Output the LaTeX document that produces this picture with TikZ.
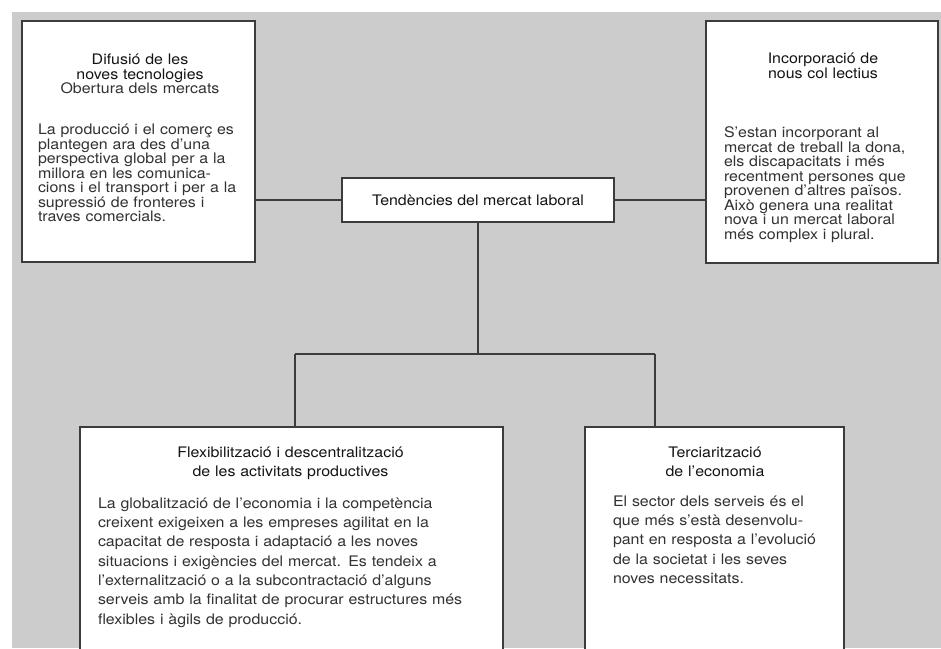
\documentclass[tikz,border=0pt]{standalone}
\usepackage{fontspec}
\setmainfont{TeX Gyre Heros}[FakeStretch=1.1]
\definecolor{bg}{RGB}{204,204,204}
\definecolor{ln}{RGB}{60,60,60}
\definecolor{tt}{RGB}{20,20,20}
\definecolor{bd}{RGB}{50,50,50}
\newcommand{\jline}[1]{\makebox[\linewidth][s]{#1}}
\newcommand{\fst}{\rule{0pt}{13pt}}
\begin{document}
\begin{tikzpicture}[x=1pt,y=-1pt,
  box/.style={draw=ln, line width=1.2pt, fill=white, inner sep=0pt},
  ttl/.style={inner sep=0pt, anchor=north, align=center, text=tt, font=\fontsize{14.5}{19.3}\selectfont},
  ttlt/.style={ttl, font={\fontsize{14.5}{14.5}\selectfont\lineskiplimit=-20pt}},
  body/.style={inner sep=0pt, anchor=north, align=left, text=bd, font={\fontsize{14.5}{14.5}\selectfont\lineskiplimit=-20pt}},
  bodyb/.style={body, font=\fontsize{14.5}{19.3}\selectfont},
  conn/.style={draw=ln, line width=1.2pt}]
\useasboundingbox (0,0) rectangle (941,648);
\clip (0,0) rectangle (941,648);
\fill[white] (0,0) rectangle (941,648);
\fill[bg] (12,12) rectangle (941,648);

% boxes
\node[box, minimum width=233pt, minimum height=241pt] (tl) at (138.5,141.5) {};
\node[box, minimum width=232pt, minimum height=242pt] (tr) at (822,142) {};
\node[box, minimum width=272pt, minimum height=44pt, text=tt, font=\fontsize{14.5}{19}\selectfont] (c) at (478,200) {Tendències del mercat laboral};
\node[box, minimum width=423pt, minimum height=253pt] (bl) at (291.5,553.5) {};
\node[box, minimum width=259pt, minimum height=253pt] (br) at (714.5,553.5) {};

% connectors
\coordinate (jl) at (295,354);
\coordinate (jr) at (655,354);
\draw[conn] (tl.east |- c.west) -- (c.west);
\draw[conn] (c.east) -- (c.east -| tr.west);
\draw[conn] (c.south) -- (c.south |- jl);
\draw[conn] (jl) -- (jr);
\draw[conn] (jl) -- (jl |- bl.north);
\draw[conn] (jr) -- (jr |- br.north);

% top left
\node[ttlt, text width=204pt] (tlt) at (140,51.5) {\fst Difusió de les\\noves tecnologies\\{\color{bd}Obertura dels mercats}};
\node[body, text width=204pt] (tlb) at (140,121.5) {%
\jline{\fst La producció i el comerç es}\\
\jline{plantegen ara des d'una}\\
\jline{perspectiva global per a la}\\
\jline{millora en les comunica-}\\
\jline{cions i el transport i per a la}\\
\jline{supressió de fronteres i}\\
traves comercials.};

% top right
\node[ttlt, text width=198pt] (trt) at (823,50.5) {\fst Incorporació de\\nous col lectius};
\node[body, text width=198pt] (trb) at (823,124.5) {%
\jline{\fst S'estan incorporant al}\\
\jline{mercat de treball la dona,}\\
\jline{els discapacitats i més}\\
\jline{recentment persones que}\\
\jline{provenen d'altres països.}\\
\jline{Això genera una realitat}\\
\jline{nova i un mercat laboral}\\
més complex i plural.};

% bottom left
\node[ttl, text width=385pt] (blt) at (290.5,444) {\fst Flexibilització i descentralització\\de les activitats productives};
\node[bodyb, text width=385pt] (blb) at (290.5,495) {%
\jline{\fst La globalització de l'economia i la competència}\\
\jline{creixent exigeixen a les empreses agilitat en la}\\
\jline{capacitat de resposta i adaptació a les noves}\\
\jline{situacions i exigències del mercat. Es tendeix a}\\
\jline{l'externalització o a la subcontractació d'alguns}\\
\jline{serveis amb la finalitat de procurar estructures més}\\
flexibles i àgils de producció.};

% bottom right
\node[ttl, text width=204pt] (brt) at (715,444) {\fst Terciarització\\de l'economia};
\node[bodyb, text width=204pt] (brb) at (715,493) {%
\jline{\fst El sector dels serveis és el}\\
\jline{que més s'està desenvolu-}\\
\jline{pant en resposta a l'evolució}\\
\jline{de la societat i les seves}\\
noves necessitats.};
\end{tikzpicture}
\end{document}
